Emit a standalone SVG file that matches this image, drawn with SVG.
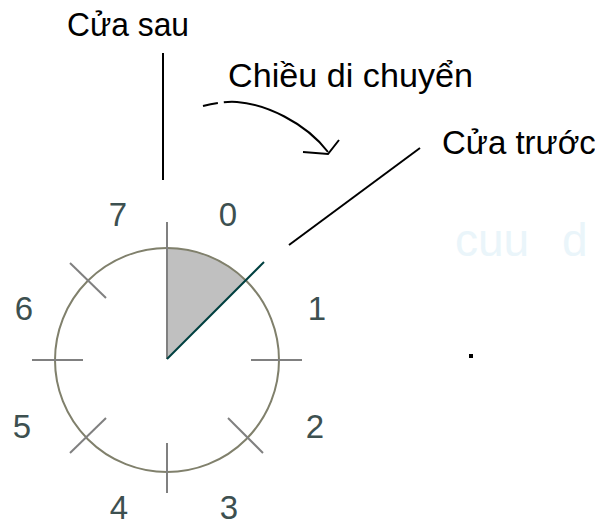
<svg xmlns="http://www.w3.org/2000/svg" width="595" height="527" viewBox="0 0 595 527">
<style>
.lbl{font-family:"Liberation Sans",Arial,sans-serif;font-size:33px;fill:#000}
.num{font-family:"Liberation Sans",Arial,sans-serif;font-size:33px;fill:#3d5050;text-anchor:middle}
.tick{stroke:#808080;stroke-width:2;fill:none}
.ln{stroke:#000;stroke-width:2;fill:none}
</style>
<rect width="595" height="527" fill="#fff"/>
<text y="256" font-family="'Liberation Sans',Arial,sans-serif" font-size="46" fill="#eaf5fa"><tspan x="455">cuu</tspan><tspan x="562">d</tspan></text>
<g id="dial">
  <path d="M167,359 L167,248 A111,111 0 0 1 246,280 Z" fill="#c0c0c0"/>
  <circle cx="167" cy="360" r="112" fill="none" stroke="#80806c" stroke-width="2"/>
  <line class="tick" x1="167" y1="222" x2="167" y2="359"/>
  <line class="tick" x1="167" y1="443" x2="167" y2="493"/>
  <line class="tick" x1="32" y1="360" x2="83" y2="360"/>
  <line class="tick" x1="251" y1="360" x2="302" y2="360"/>
  <line class="tick" x1="70" y1="263" x2="106" y2="298"/>
  <line class="tick" x1="228" y1="418" x2="263" y2="453"/>
  <line class="tick" x1="106" y1="418" x2="70" y2="453"/>
  <line x1="167" y1="359" x2="264" y2="262" stroke="#004040" stroke-width="2"/>
</g>
<g id="numbers">
  <text class="num" x="228" y="226">0</text>
  <text class="num" x="317" y="320">1</text>
  <text class="num" x="315" y="438">2</text>
  <text class="num" x="229" y="519">3</text>
  <text class="num" x="119" y="519">4</text>
  <text class="num" x="22" y="438">5</text>
  <text class="num" x="24" y="320">6</text>
  <text class="num" x="118" y="226">7</text>
</g>
<g id="label-cua-sau"><text class="lbl" x="67" y="36" textLength="122" lengthAdjust="spacingAndGlyphs">Cửa sau</text></g>
<g id="label-chieu"><text class="lbl" x="228" y="87" textLength="245" lengthAdjust="spacingAndGlyphs">Chiều di chuyển</text></g>
<g id="label-cua-truoc"><text class="lbl" x="442" y="154" font-size="31">Cửa trước</text></g>
<g id="connectors">
  <line class="ln" x1="163" y1="53" x2="163" y2="180"/>
  <path class="ln" d="M203,106 Q222,101 237,102 C265,104 305,122 328,152" stroke-dasharray="15 6 400"/>
  <polyline class="ln" points="303,152 328,154 339,140"/>
  <line class="ln" x1="289" y1="245" x2="420" y2="148" stroke-width="1.8"/>
</g>
<rect x="469" y="354" width="4" height="4" fill="#000"/>
</svg>
